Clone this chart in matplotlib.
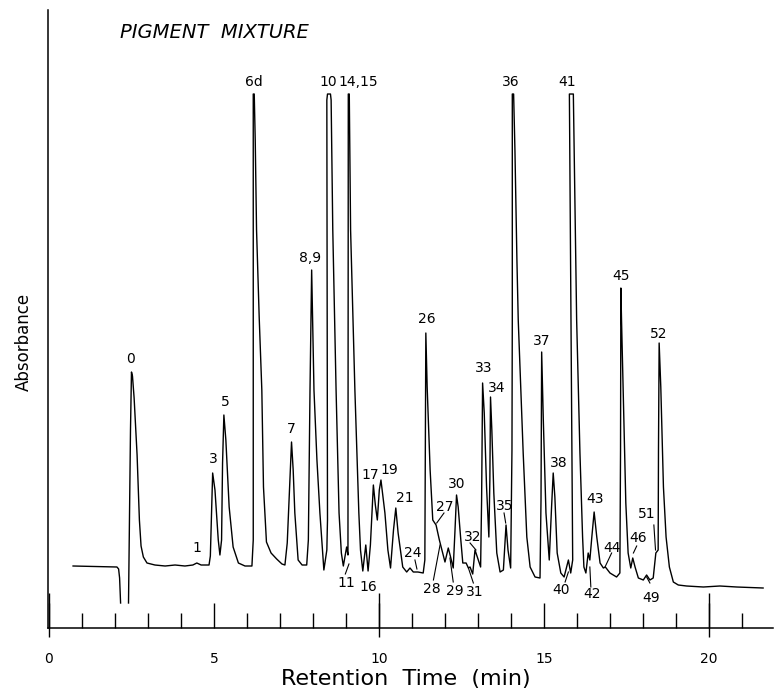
import matplotlib
matplotlib.use('Agg')
import matplotlib.pyplot as plt

# trace: time (min), signal (arbitrary units)
time_a = [0.73, 2.06, 2.11, 2.14, 2.17]
signal_a = [62, 61, 59, 50, 25]

time_b = [2.41, 2.47, 2.50, 2.53, 2.58, 2.67, 2.74, 2.79, 2.86, 2.97,
          3.21, 3.52, 3.82, 4.12, 4.36, 4.48, 4.61, 4.85, 4.89, 4.96,
          5.03, 5.13, 5.18, 5.23, 5.26, 5.30, 5.36, 5.46, 5.58, 5.74,
          5.94, 6.15, 6.19, 6.19, 6.22, 6.25, 6.29, 6.37, 6.45, 6.50,
          6.59, 6.73, 6.90, 7.06, 7.15, 7.22, 7.35, 7.40, 7.45, 7.55,
          7.67, 7.81, 7.86, 7.91, 7.96, 8.03, 8.12, 8.21, 8.33, 8.42,
          8.44, 8.42, 8.44, 8.53, 8.55, 8.60, 8.70, 8.79, 8.86, 8.92,
          9.02, 9.06, 9.07, 9.10, 9.14, 9.27, 9.35, 9.39, 9.44, 9.51,
          9.60, 9.67, 9.74, 9.83, 9.89, 9.95, 10.01, 10.06, 10.18, 10.27,
          10.35, 10.44, 10.51, 10.58, 10.72, 10.84, 10.94, 11.04, 11.18, 11.34,
          11.39, 11.41, 11.42, 11.46, 11.55, 11.63, 11.73, 11.83, 11.93, 12.00,
          12.10, 12.17, 12.25, 12.30, 12.35, 12.40, 12.48, 12.54, 12.64, 12.71,
          12.76, 12.84, 12.91, 12.98, 13.08, 13.11, 13.14, 13.19, 13.26, 13.33,
          13.36, 13.38, 13.42, 13.48, 13.57, 13.67, 13.77, 13.85, 13.91, 13.99,
          14.03, 14.04, 14.04, 14.08, 14.12, 14.18, 14.22, 14.37, 14.48, 14.58,
          14.73, 14.88, 14.91, 14.93, 14.98, 15.06, 15.16, 15.23, 15.28, 15.33,
          15.40, 15.51, 15.61, 15.74, 15.81, 15.87, 15.82, 15.77, 15.89, 15.99,
          16.09, 16.17, 16.21, 16.27, 16.34, 16.39, 16.45, 16.52, 16.60, 16.70,
          16.80, 16.86, 17.00, 17.20, 17.30, 17.32, 17.33, 17.35, 17.42, 17.48,
          17.55, 17.63, 17.69, 17.76, 17.86, 18.01, 18.11, 18.21, 18.31, 18.39,
          18.46, 18.47, 18.49, 18.54, 18.62, 18.70, 18.80, 18.92, 19.07, 19.32,
          19.83, 20.33, 20.84, 21.64]
signal_b = [25, 198, 256, 252, 230, 173, 108, 82, 71, 65,
            63, 62, 63, 62, 63, 65, 63, 63, 72, 155,
            138, 88, 73, 88, 165, 213, 188, 121, 81, 65,
            62, 62, 88, 534, 534, 488, 398, 311, 238, 141,
            86, 75, 69, 64, 63, 85, 186, 158, 115, 68,
            63, 63, 88, 238, 358, 238, 168, 115, 58, 78,
            108, 528, 534, 534, 528, 398, 238, 115, 75, 62,
            81, 73, 534, 534, 398, 238, 158, 115, 78, 57,
            83, 57, 83, 143, 123, 108, 138, 148, 115, 78,
            60, 98, 120, 95, 61, 56, 60, 56, 56, 55,
            68, 228, 295, 241, 158, 108, 103, 88, 75, 66,
            80, 71, 60, 95, 133, 121, 88, 65, 65, 60,
            61, 54, 78, 71, 61, 128, 245, 215, 141, 91,
            148, 231, 198, 135, 75, 56, 58, 103, 78, 60,
            178, 308, 534, 534, 478, 368, 308, 175, 91, 61,
            51, 50, 128, 276, 208, 115, 68, 121, 155, 131,
            75, 55, 51, 68, 55, 68, 298, 534, 534, 308,
            175, 91, 61, 55, 75, 68, 91, 116, 91, 65,
            60, 61, 55, 51, 55, 178, 340, 308, 208, 125,
            75, 60, 70, 61, 50, 48, 53, 48, 50, 75,
            78, 178, 285, 241, 141, 91, 61, 46, 43, 42,
            41, 42, 41, 40]

peak_names = ['0', '1', '3', '5', '6d', '7', '8,9', '10', '14,15', '11',
              '16', '17', '19', '21', '24', '26', '27', '28', '29', '30',
              '31', '32', '33', '34', '35', '36', '37', '38', '40', '41',
              '42', '43', '44', '45', '46', '49', '51', '52']
peak_t = [2.48, 4.49, 4.98, 5.33, 6.20, 7.35, 7.91, 8.47, 9.36, 9.02,
          9.68, 9.73, 10.31, 10.77, 11.01, 11.45, 12.00, 11.60, 12.30, 12.35,
          12.91, 12.84, 13.16, 13.57, 13.82, 14.00, 14.93, 15.45, 15.52, 15.71,
          16.45, 16.55, 17.07, 17.35, 17.86, 18.26, 18.11, 18.49]
peak_h = [269, 80, 169, 226, 546, 199, 370, 546, 546, 45,
          41, 153, 158, 130, 75, 309, 121, 39, 37, 144,
          36, 91, 260, 240, 122, 546, 287, 165, 38, 546,
          34, 129, 80, 352, 90, 30, 114, 294]

# short leader lines from a label to its peak
lead_t0 = [8.98, 11.09, 11.97, 11.65, 12.25, 12.86, 12.76, 13.79, 15.64, 16.42, 17.05, 17.81, 18.21, 18.33]
lead_h0 = [54, 68, 115, 48, 46, 45, 85, 115, 46, 41, 75, 82, 45, 103]
lead_t1 = [9.09, 11.15, 11.75, 11.85, 12.15, 12.71, 12.94, 13.84, 15.74, 16.39, 16.85, 17.71, 18.11, 18.38]
lead_h1 = [64, 59, 105, 83, 70, 60, 78, 105, 56, 61, 61, 75, 51, 78]

major_ticks = [0, 5, 10, 15, 20]
minor_ticks = [1, 2, 3, 4, 6, 7, 8, 9, 11, 12, 13, 14, 16, 17, 18, 19, 21]
long_ticks = [0, 10, 20]

fig = plt.figure(figsize=(7.74, 6.96), dpi=100)
ax = fig.add_axes([0.062, 0.0977, 0.9367, 0.8879])

ax.plot(time_a, signal_a, color='black', lw=1.0)
ax.plot(time_b, signal_b, color='black', lw=1.0)

for name, t, h in zip(peak_names, peak_t, peak_h):
    ax.text(t, h, name, ha='center', va='center', fontsize=10)

for t0, h0, t1, h1 in zip(lead_t0, lead_h0, lead_t1, lead_h1):
    ax.plot([t0, t1], [h0, h1], color='black', lw=0.8)

ax.set_xlim(-0.03, 21.94)
ax.set_ylim(0, 618)
ax.spines['top'].set_visible(False)
ax.spines['right'].set_visible(False)
ax.spines['left'].set_linewidth(1.1)
ax.spines['bottom'].set_linewidth(1.1)
ax.set_yticks([])

ax.set_xticks(major_ticks)
ax.set_xticks(minor_ticks, minor=True)
ax.tick_params(axis='x', which='major', direction='in', length=18, width=1,
               pad=17, labelsize=10)
ax.tick_params(axis='x', which='minor', direction='in', length=10.8, width=1)
ax.vlines(long_ticks, -9 / 618, 35 / 618, transform=ax.get_xaxis_transform(),
          colors='black', lw=1, clip_on=False)

ax.set_xlabel('Retention  Time  (min)', fontsize=16)
ax.xaxis.set_label_coords(0.493, -0.066)
ax.set_ylabel('Absorbance', fontsize=12)
ax.yaxis.set_label_coords(-0.021, 0.463)

fig.text(120 / 774, 1 - 32 / 696, 'PIGMENT  MIXTURE', style='italic',
         fontsize=14, ha='left', va='center')

plt.savefig('out.png', dpi=100)
